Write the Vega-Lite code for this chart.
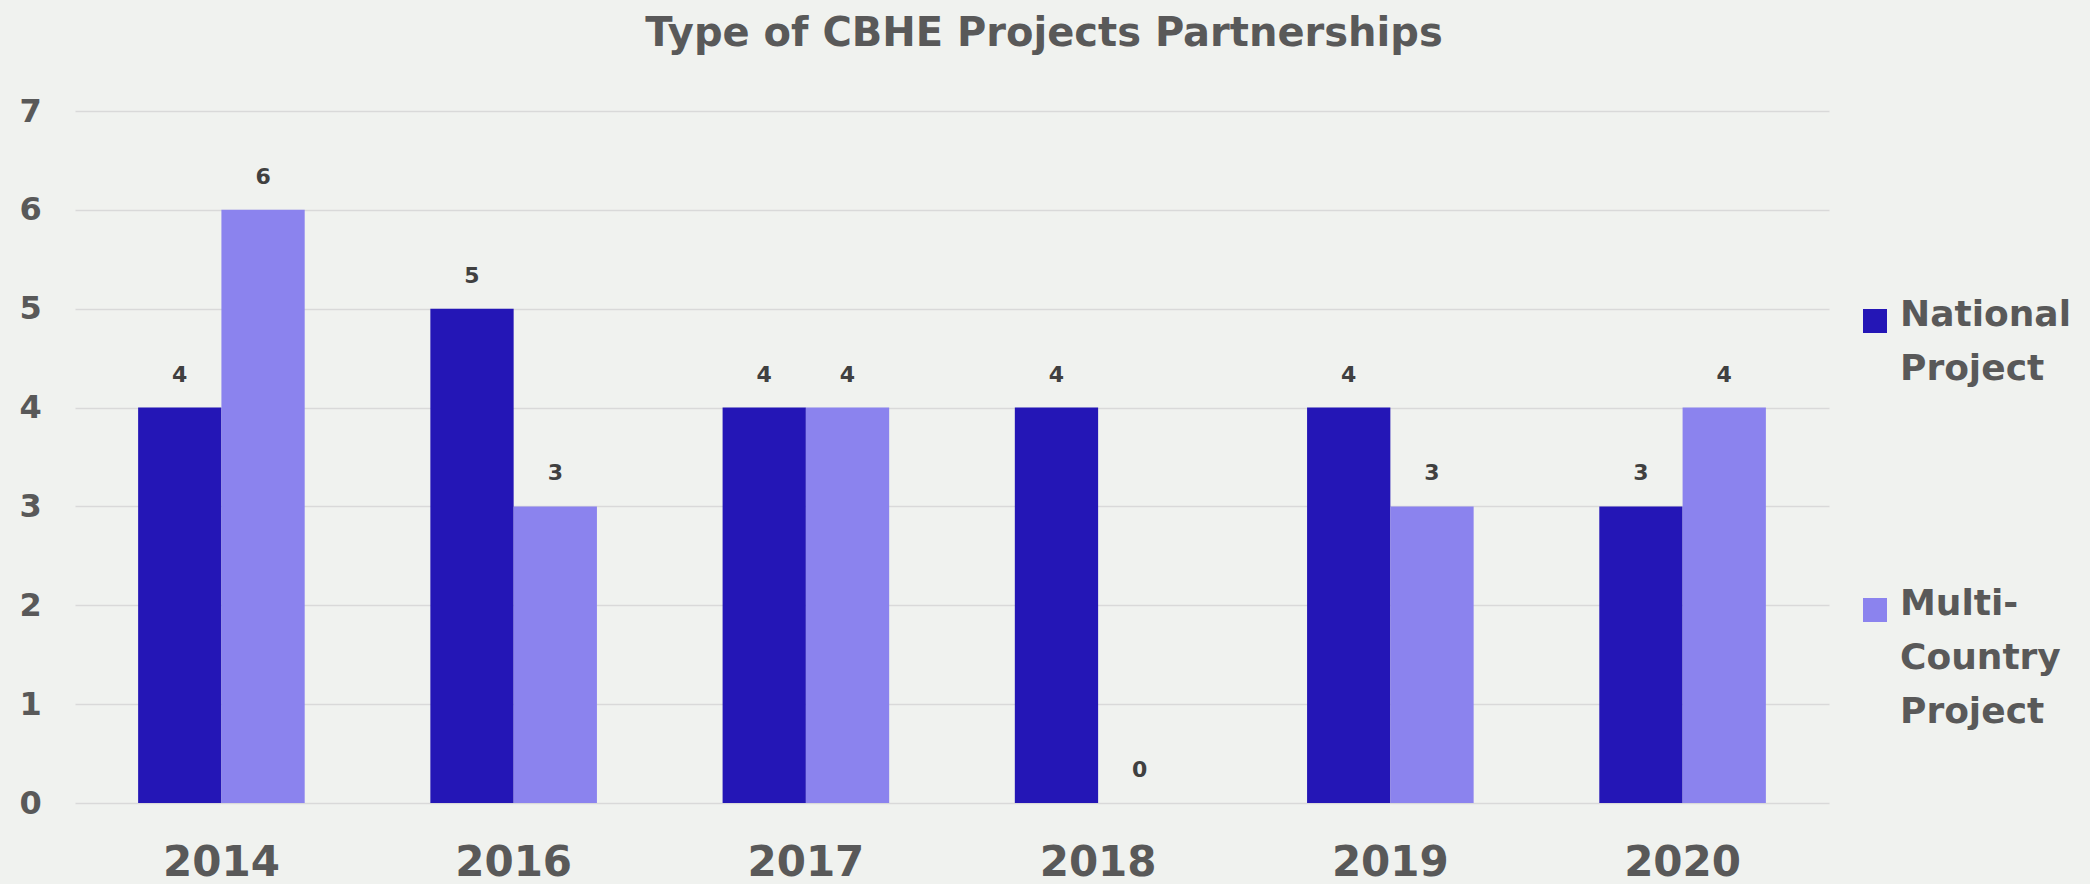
{
  "$schema": "https://vega.github.io/schema/vega-lite/v6.json",
  "width": 1754,
  "height": 692,
  "autosize": "none",
  "padding": {"left": 75, "top": 111, "right": 261, "bottom": 81},
  "background": "#F0F2EF",
  "config": {"view": {"stroke": null}, "font": "DejaVu Sans"},
  "title": {
    "text": "Type of CBHE Projects Partnerships",
    "fontSize": 40,
    "fontWeight": "bold",
    "color": "#595959",
    "font": "DejaVu Sans",
    "anchor": "middle",
    "offset": 41,
    "dx": 92
  },
  "data": {
    "values": [
      {"year": "2014", "type": "National Project", "value": 4},
      {"year": "2014", "type": "Multi-Country Project", "value": 6},
      {"year": "2016", "type": "National Project", "value": 5},
      {"year": "2016", "type": "Multi-Country Project", "value": 3},
      {"year": "2017", "type": "National Project", "value": 4},
      {"year": "2017", "type": "Multi-Country Project", "value": 4},
      {"year": "2018", "type": "National Project", "value": 4},
      {"year": "2018", "type": "Multi-Country Project", "value": 0},
      {"year": "2019", "type": "National Project", "value": 4},
      {"year": "2019", "type": "Multi-Country Project", "value": 3},
      {"year": "2020", "type": "National Project", "value": 3},
      {"year": "2020", "type": "Multi-Country Project", "value": 4}
    ]
  },
  "encoding": {
    "x": {
      "field": "year",
      "type": "nominal",
      "sort": null,
      "scale": {"paddingInner": 0.43, "paddingOuter": 0.216},
      "axis": {
        "title": null,
        "labelAngle": 0,
        "domain": false,
        "ticks": false,
        "labelFontSize": 42,
        "labelFont": "DejaVu Sans",
        "labelFontWeight": "bold",
        "labelColor": "#595959",
        "labelBaseline": "alphabetic",
        "labelPadding": 72
      }
    },
    "xOffset": {"field": "type", "type": "nominal", "sort": ["National Project", "Multi-Country Project"]},
    "y": {
      "field": "value",
      "type": "quantitative",
      "scale": {"domain": [0, 7], "nice": false},
      "axis": {
        "title": null,
        "values": [0, 1, 2, 3, 4, 5, 6, 7],
        "grid": true,
        "gridColor": "#D9D9D9",
        "gridWidth": 1.5,
        "domain": false,
        "ticks": false,
        "labelPadding": 56,
        "labelAlign": "left",
        "labelFontSize": 32,
        "labelFont": "DejaVu Sans",
        "labelFontWeight": "bold",
        "labelColor": "#595959"
      }
    }
  },
  "layer": [
    {
      "mark": {"type": "bar"},
      "encoding": {
        "color": {
          "field": "type",
          "type": "nominal",
          "sort": ["National Project", "Multi-Country Project"],
          "scale": {"domain": ["National Project", "Multi-Country Project"], "range": ["#2416B6", "#8B83EE"]},
          "legend": {
            "title": null,
            "orient": "none",
            "legendX": 1782,
            "legendY": 192,
            "padding": 0,
            "symbolType": "square",
            "symbolSize": 576,
            "symbolStrokeWidth": 0,
            "labelFontSize": 36,
            "labelFont": "DejaVu Sans",
            "labelFontWeight": "bold",
            "labelColor": "#595959",
            "labelOffset": 7,
            "labelLimit": 0,
            "labelBaseline": "alphabetic",
            "rowPadding": 199,
            "labelExpr": "datum.label == 'National Project' ? ['National', 'Project'] : ['Multi-', 'Country', 'Project']",
            "encode": {"labels": {"update": {"lineHeight": {"value": 54}, "dy": {"value": 5}}}}
          }
        }
      }
    },
    {
      "mark": {"type": "text", "dy": -26, "baseline": "alphabetic", "fontSize": 22, "fontWeight": "bold", "font": "DejaVu Sans", "color": "#404040"},
      "encoding": {"text": {"field": "value", "type": "quantitative"}}
    }
  ]
}
